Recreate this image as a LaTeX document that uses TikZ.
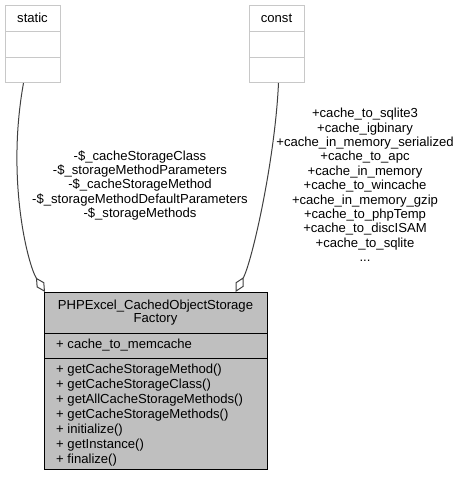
\documentclass[tikz,border=0pt]{standalone}
\usepackage{fontspec}
\setmainfont{Liberation Sans}
\usetikzlibrary{arrows.meta}
\definecolor{boxgray}{HTML}{BFBFBF}
\definecolor{litegray}{HTML}{C8C8C8}
\definecolor{edgegray}{HTML}{404040}
\tikzset{
  txt/.style={font=\fontsize{13.1}{14.4}\selectfont, inner sep=0pt, align=center},
  txtl/.style={font=\fontsize{13.1}{15}\selectfont, inner sep=0pt, align=left, anchor=west},
  smallbox/.style={draw=litegray, fill=white, line width=1pt, inner sep=0pt, anchor=north west, minimum width=55pt, minimum height=77pt},
  mainbox/.style={draw=black, fill=boxgray, line width=1pt, inner sep=0pt, anchor=north west, minimum width=223pt, minimum height=177pt},
  sdiv/.style={draw=litegray, line width=1pt},
  mdiv/.style={draw=black, line width=1pt},
  usage/.style={draw=edgegray, line width=1pt, {Diamond[open, length=17pt, width=9pt, line width=1pt]}-}
}
\begin{document}
\begin{tikzpicture}[x=1pt,y=-1pt]
\useasboundingbox (0,0) rectangle (459,477);

% static box
\node[smallbox] (static) at (5,5) {};
\draw[sdiv] ([yshift=-26pt]static.north west) -- ([yshift=-26pt]static.north east);
\draw[sdiv] ([yshift=-52pt]static.north west) -- ([yshift=-52pt]static.north east);
\node[txt] (statict) at (32.5,18) {static};

% const box
\node[smallbox] (const) at (249,5) {};
\draw[sdiv] ([yshift=-26pt]const.north west) -- ([yshift=-26pt]const.north east);
\draw[sdiv] ([yshift=-52pt]const.north west) -- ([yshift=-52pt]const.north east);
\node[txt] (constt) at (276.5,18) {const};

% main class box
\node[mainbox] (main) at (44,292) {};
\draw[mdiv] ([yshift=-41pt]main.north west) -- ([yshift=-41pt]main.north east);
\draw[mdiv] ([yshift=-66pt]main.north west) -- ([yshift=-66pt]main.north east);
\node[txt, font=\fontsize{13.1}{13}\selectfont] (title) at (155.5,313) {PHPExcel\_CachedObjectStorage\\Factory};
\node[txtl] (attr) at (56,345) {+ cache\_to\_memcache};
\node[txtl] (meths) at (56,415) {+ getCacheStorageMethod()\\+ getCacheStorageClass()\\+ getAllCacheStorageMethods()\\+ getCacheStorageMethods()\\+ initialize()\\+ getInstance()\\+ finalize()};

% edges
\draw[usage] ([xshift=1pt]main.north west) .. controls (28,265) and (6,180) .. ([xshift=-9.5pt]static.south);
\draw[usage] ([xshift=79.5pt]main.north) .. controls (252,262) and (275,160) .. ([xshift=1.5pt]const.south);

% edge labels
\node[txt] (lblstatic) at (140,185.5) {-\$\_cacheStorageClass\\-\$\_storageMethodParameters\\-\$\_cacheStorageMethod\\-\$\_storageMethodDefaultParameters\\-\$\_storageMethods};
\node[txt] (lblconst) at (365,185) {+cache\_to\_sqlite3\\+cache\_igbinary\\+cache\_in\_memory\_serialized\\+cache\_to\_apc\\+cache\_in\_memory\\+cache\_to\_wincache\\+cache\_in\_memory\_gzip\\+cache\_to\_phpTemp\\+cache\_to\_discISAM\\+cache\_to\_sqlite\\...};
\end{tikzpicture}
\end{document}
